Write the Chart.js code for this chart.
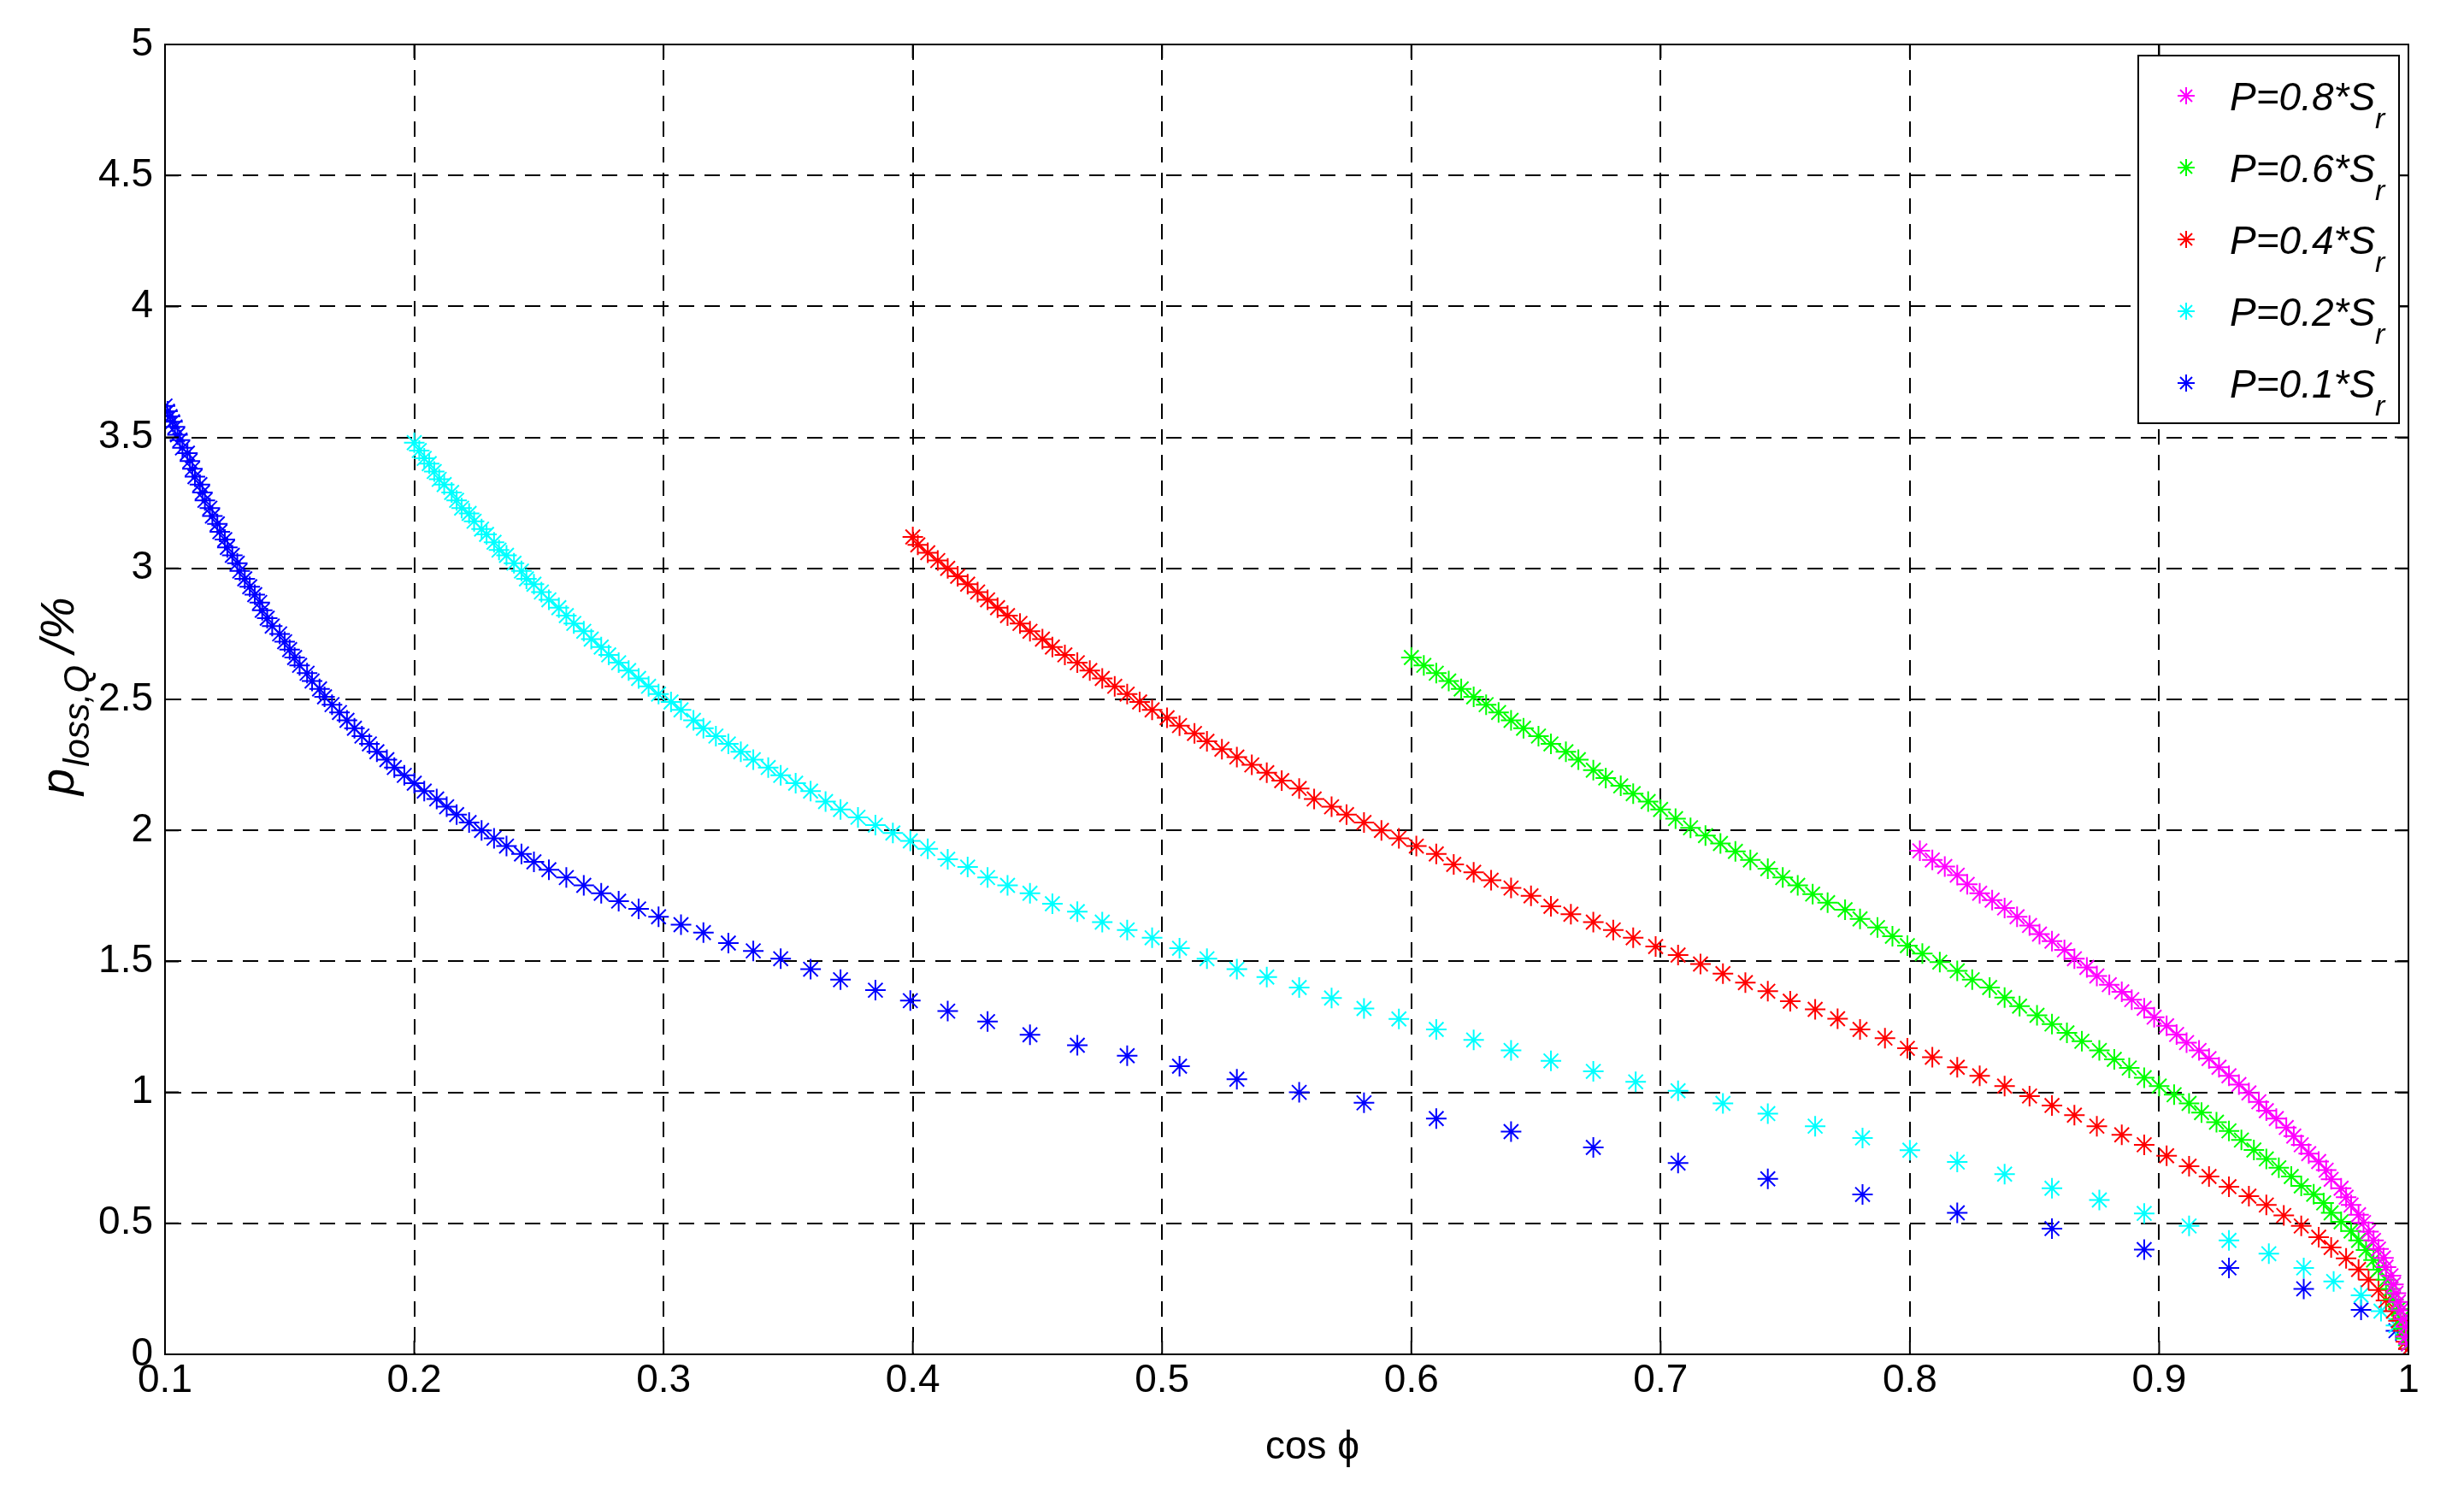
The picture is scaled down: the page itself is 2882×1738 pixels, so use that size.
<!DOCTYPE html>
<html>
<head>
<meta charset="utf-8">
<script src="https://cdn.jsdelivr.net/npm/chart.js@4.4.0/dist/chart.umd.min.js"></script>
<style>
  html, body { margin: 0; padding: 0; background: #fff; }
  #wrap { width: 2882px; height: 1738px; }
</style>
</head>
<body>
<div id="wrap"><canvas id="c" width="2882" height="1738"></canvas></div>
<script>
// values (cos phi, p_loss,Q in %)
const xTicks = [0.1, 0.2, 0.3, 0.4, 0.5, 0.6, 0.7, 0.8, 0.9, 1];
const yTicks = [0, 0.5, 1, 1.5, 2, 2.5, 3, 3.5, 4, 4.5, 5];
const seriesLabels = ['0.8', '0.6', '0.4', '0.2', '0.1'];
const seriesColors = ['#ff00ff', '#00ff00', '#ff0000', '#00ffff', '#0000ff'];

const cosMagenta = [1, .999, .999, .998, .997, .996, .995, .994, .993, .991, .990, .988, .986, .984, .982, .980, .977, .975, .973, .969, .967, .964, .960, .957, .954, .951, .947, .943, .940, .936, .932, .928, .924, .920, .916, .911, .907, .903, .898, .894, .889, .885, .880, .875, .871, .866, .862, .857, .852, .848, .843, .838, .833, .828, .823, .819, .814, .809, .804];
const lossMagenta = [.04, .068, .105, .135, .168, .2, .233, .267, .3, .333, .368, .402, .435, .468, .503, .533, .57, .6, .634, .668, .703, .736, .766, .8, .833, .866, .9, .93, .964, .998, 1.03, 1.063, 1.096, 1.129, 1.16, 1.19, 1.221, 1.254, 1.287, 1.321, 1.354, 1.384, 1.411, 1.444, 1.477, 1.51, 1.544, 1.577, 1.604, 1.637, 1.67, 1.704, 1.734, 1.76, 1.794, 1.829, 1.862, 1.887, 1.922];

const cosGreen = [1, .999, .998, .997, .996, .994, .993, .991, .988, .986, .983, .980, .977, .973, .969, .966, .962, .957, .953, .948, .943, .938, .933, .928, .923, .917, .912, .906, .900, .894, .888, .882, .876, .869, .863, .857, .851, .844, .838, .832, .825, .819, .812, .805, .799, .793, .787, .780, .774, .767, .761, .755, .749, .743, .736, .730, .724, .718, .712, .706, .700, .695, .689, .684, .678, .673, .667, .662, .656, .651, .645, .640, .635, .630, .625, .620, .615, .610, .605, .600];
const lossGreen = [.04, .06, .098, .135, .173, .21, .25, .285, .323, .36, .398, .435, .471, .506, .54, .578, .611, .643, .679, .712, .746, .78, .818, .853, .886, .923, .958, .991, 1.024, 1.056, 1.093, 1.126, 1.16, 1.195, 1.227, 1.261, 1.294, 1.329, 1.362, 1.4, 1.43, 1.464, 1.497, 1.53, 1.56, 1.596, 1.629, 1.662, 1.697, 1.724, 1.757, 1.79, 1.82, 1.854, 1.887, 1.92, 1.95, 1.98, 2.01, 2.045, 2.08, 2.11, 2.14, 2.17, 2.20, 2.23, 2.27, 2.30, 2.33, 2.36, 2.39, 2.42, 2.45, 2.48, 2.51, 2.54, 2.57, 2.60, 2.63, 2.66];

const cosRed = [1, .999, .998, .996, .994, .991, .988, .984, .980, .975, .969, .964, .957, .950, .943, .936, .928, .920, .912, .903, .894, .885, .875, .866, .857, .848, .838, .828, .819, .809, .799, .790, .780, .771, .762, .752, .743, .734, .725, .716, .707, .698, .689, .681, .673, .664, .656, .648, .640, .632, .625, .617, .610, .602, .595, .588, .581, .574, .568, .561, .555, .548, .542, .536, .530, .524, .518, .513, .507, .502, .496, .491, .486, .481, .476, .471, .466, .461, .456, .452, .447, .443, .438, .434, .430, .426, .422, .418, .414, .410, .406, .402, .400];
const lossRed = [.02, .048, .09, .128, .165, .206, .246, .285, .324, .366, .408, .447, .49, .53, .57, .604, .64, .679, .718, .758, .8, .838, .871, .913, .95, .986, 1.024, 1.063, 1.096, 1.134, 1.168, 1.207, 1.24, 1.281, 1.317, 1.348, 1.386, 1.419, 1.453, 1.49, 1.524, 1.557, 1.59, 1.62, 1.65, 1.68, 1.71, 1.75, 1.78, 1.81, 1.84, 1.87, 1.91, 1.94, 1.97, 2.00, 2.03, 2.06, 2.09, 2.12, 2.16, 2.19, 2.22, 2.25, 2.28, 2.31, 2.34, 2.37, 2.40, 2.43, 2.46, 2.49, 2.52, 2.55, 2.58, 2.61, 2.64, 2.67, 2.70, 2.73, 2.76, 2.79, 2.82, 2.85, 2.88, 2.91, 2.94, 2.97, 3.00, 3.03, 3.06, 3.09, 3.12];

const cosCyan = [1, .9988, .995, .989, .981, .970, .958, .944, .928, .912, .894, .876, .857, .838, .819, .800, .781, .762, .743, .725, .707, .690, .673, .656, .640, .625, .610, .595, .581, .568, .555, .542, .530, .518, .507, .496, .486, .476, .466, .456, .447, .438, .430, .422, .414, .406, .399, .392, .385, .378, .371, .365, .359, .353, .347, .342, .336, .331, .326, .321, .316, .312, .307, .303, .298, .294, .290, .286, .282, .278, .275, .271, .268, .264, .261, .258, .254, .251, .248, .245, .243, .240, .237, .234, .232, .229, .227, .224, .222, .219, .217, .215, .212, .210, .208, .206, .204, .202, .200];
const lossCyan = [.02, .06, .11, .165, .225, .278, .33, .384, .435, .49, .538, .589, .634, .688, .734, .779, .826, .871, .919, .958, 1.006, 1.04, 1.08, 1.12, 1.16, 1.20, 1.24, 1.28, 1.32, 1.36, 1.40, 1.44, 1.47, 1.51, 1.55, 1.59, 1.62, 1.65, 1.69, 1.72, 1.76, 1.79, 1.82, 1.86, 1.89, 1.93, 1.96, 1.99, 2.02, 2.05, 2.08, 2.11, 2.15, 2.18, 2.21, 2.24, 2.27, 2.30, 2.33, 2.36, 2.39, 2.42, 2.46, 2.49, 2.52, 2.55, 2.58, 2.61, 2.64, 2.67, 2.70, 2.73, 2.76, 2.79, 2.82, 2.85, 2.88, 2.91, 2.94, 2.96, 2.99, 3.02, 3.05, 3.07, 3.10, 3.13, 3.15, 3.18, 3.21, 3.23, 3.26, 3.29, 3.32, 3.34, 3.37, 3.40, 3.42, 3.45, 3.48];

const cosBlue = [1, .995, .981, .958, .928, .894, .857, .819, .781, .743, .707, .673, .640, .610, .581, .555, .530, .507, .486, .466, .447, .430, .414, .399, .385, .371, .359, .347, .336, .326, .316, .307, .298, .290, .282, .275, .268, .261, .254, .248, .243, .237, .232, .227, .222, .217, .213, .209, .204, .200, .196, .192, .189, .185, .182, .179, .176, .173, .170, .167, .164, .162, .159, .157, .154, .152, .150, .148, .146, .143, .141, .139, .138, .136, .134, .132, .130, .129, .127, .125, .124, .122, .121, .119, .118, .116, .115, .114, .112, .111, .110, .109, .107, .106, .105, .104, .103, .102, .101, .100];
const lossBlue = [.02, .09, .17, .25, .33, .40, .48, .54, .61, .67, .73, .79, .85, .90, .96, 1.00, 1.05, 1.10, 1.14, 1.18, 1.22, 1.27, 1.31, 1.35, 1.39, 1.43, 1.47, 1.51, 1.54, 1.57, 1.61, 1.64, 1.67, 1.70, 1.73, 1.76, 1.79, 1.82, 1.85, 1.88, 1.91, 1.94, 1.97, 2.00, 2.03, 2.06, 2.09, 2.12, 2.15, 2.18, 2.21, 2.24, 2.27, 2.30, 2.33, 2.36, 2.39, 2.42, 2.45, 2.48, 2.51, 2.54, 2.57, 2.60, 2.63, 2.66, 2.69, 2.72, 2.75, 2.78, 2.81, 2.84, 2.87, 2.90, 2.93, 2.96, 2.99, 3.02, 3.05, 3.08, 3.11, 3.14, 3.17, 3.20, 3.23, 3.26, 3.29, 3.32, 3.35, 3.38, 3.41, 3.44, 3.46, 3.49, 3.51, 3.54, 3.56, 3.58, 3.60, 3.62];

const FONT = '"Liberation Sans", Arial, sans-serif';

function pairs(xs, ys) {
  const n = Math.min(xs.length, ys.length);
  const out = [];
  for (let i = 0; i < n; i++) out.push({ x: xs[i], y: ys[i] });
  return out;
}

const seriesData = [
  pairs(cosMagenta, lossMagenta),
  pairs(cosGreen, lossGreen),
  pairs(cosRed, lossRed),
  pairs(cosCyan, lossCyan),
  pairs(cosBlue, lossBlue),
];

const datasets = seriesData.map((d, i) => ({
  label: 'P=' + seriesLabels[i] + '*Sr',
  data: d,
  showLine: false,
  pointStyle: 'star',
  pointRadius: 12,
  pointBorderWidth: 2,
  borderColor: seriesColors[i],
  backgroundColor: seriesColors[i],
}));

const frame = {
  id: 'frame',
  afterDraw(chart) {
    const { ctx, chartArea: a, scales } = chart;
    ctx.save();
    ctx.strokeStyle = '#000';
    ctx.lineWidth = 2;
    ctx.setLineDash([]);
    ctx.strokeRect(a.left, a.top, a.right - a.left, a.bottom - a.top);
    // inward tick marks on all sides
    const tl = 16;
    ctx.beginPath();
    xTicks.forEach((v) => {
      const px = scales.x.getPixelForValue(v);
      ctx.moveTo(px, a.bottom); ctx.lineTo(px, a.bottom - tl);
      ctx.moveTo(px, a.top); ctx.lineTo(px, a.top + tl);
    });
    yTicks.forEach((v) => {
      const py = scales.y.getPixelForValue(v);
      ctx.moveTo(a.left, py); ctx.lineTo(a.left + tl, py);
      ctx.moveTo(a.right, py); ctx.lineTo(a.right - tl, py);
    });
    ctx.stroke();

    // axis titles
    ctx.fillStyle = '#000';
    ctx.textBaseline = 'alphabetic';
    ctx.textAlign = 'center';
    ctx.font = '46px ' + FONT;
    ctx.fillText('cos \u03D5', 1535, 1706);

    ctx.save();
    ctx.translate(86, 740);
    ctx.rotate(-Math.PI / 2);
    ctx.textAlign = 'left';
    ctx.font = 'italic 56px ' + FONT;
    let x = -190;
    ctx.fillText('p', x, 0);
    x += ctx.measureText('p').width + 2;
    ctx.font = 'italic 42px ' + FONT;
    ctx.fillText('loss,Q', x, 18);
    x += ctx.measureText('loss,Q').width + 14;
    ctx.font = 'italic 56px ' + FONT;
    ctx.fillText('/%', x, 0);
    ctx.restore();

    // legend box
    const lx = 2501, ly = 65, lw = 305, lh = 430;
    ctx.fillStyle = '#fff';
    ctx.fillRect(lx, ly, lw, lh);
    ctx.strokeStyle = '#000';
    ctx.lineWidth = 2;
    ctx.strokeRect(lx, ly, lw, lh);
    seriesLabels.forEach((lab, i) => {
      const cy = 112 + i * 84;
      ctx.strokeStyle = seriesColors[i];
      ctx.lineWidth = 2;
      const r = 10;
      ctx.beginPath();
      ctx.moveTo(2557 - r, cy); ctx.lineTo(2557 + r, cy);
      ctx.moveTo(2557, cy - r); ctx.lineTo(2557, cy + r);
      ctx.moveTo(2557 - r * 0.7, cy - r * 0.7); ctx.lineTo(2557 + r * 0.7, cy + r * 0.7);
      ctx.moveTo(2557 - r * 0.7, cy + r * 0.7); ctx.lineTo(2557 + r * 0.7, cy - r * 0.7);
      ctx.stroke();
      ctx.fillStyle = '#000';
      ctx.textAlign = 'left';
      ctx.font = 'italic 46px ' + FONT;
      const t = 'P=' + lab + '*S';
      ctx.fillText(t, 2608, cy + 17);
      const w = ctx.measureText(t).width;
      ctx.font = 'italic 34px ' + FONT;
      ctx.fillText('r', 2608 + w, cy + 38);
    });
    ctx.restore();
  },
};

new Chart(document.getElementById('c'), {
  type: 'scatter',
  data: { datasets },
  options: {
    responsive: false,
    animation: false,
    layout: { padding: { top: 52, right: 65, left: 0, bottom: 0 } },
    plugins: { legend: { display: false }, tooltip: { enabled: false } },
    scales: {
      x: {
        type: 'linear',
        min: 0.1, max: 1,
        afterBuildTicks: (s) => { s.ticks = xTicks.map((v) => ({ value: v })); },
        afterFit: (s) => { s.height = 154; },
        ticks: {
          color: '#000', font: { family: FONT, size: 46 }, padding: 4,
          maxRotation: 0, autoSkip: false,
          callback: (v) => String(+v.toFixed(1)),
        },
        grid: { color: '#000', lineWidth: 2, drawTicks: false },
        border: { display: true, color: '#000', width: 2, dash: [18, 12] },
      },
      y: {
        type: 'linear',
        min: 0, max: 5,
        afterBuildTicks: (s) => { s.ticks = yTicks.map((v) => ({ value: v })); },
        afterFit: (s) => { s.width = 193; },
        ticks: {
          color: '#000', font: { family: FONT, size: 46 }, padding: 14,
          autoSkip: false,
          callback: (v) => String(+v.toFixed(1)),
        },
        grid: { color: '#000', lineWidth: 2, drawTicks: false },
        border: { display: true, color: '#000', width: 2, dash: [18, 12] },
      },
    },
  },
  plugins: [frame],
});
</script>
</body>
</html>
